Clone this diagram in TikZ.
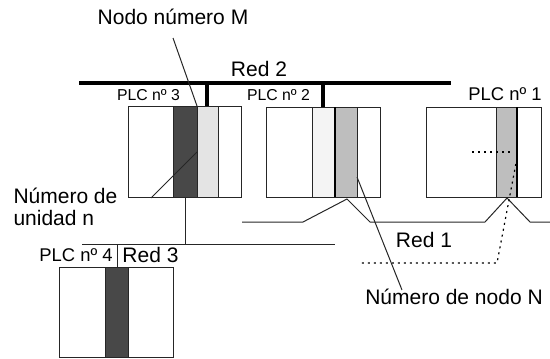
\documentclass[tikz,border=0pt]{standalone}
\usepackage{fontspec}
\setmainfont{Liberation Sans}
\definecolor{oscuro}{HTML}{484848}
\definecolor{claro}{HTML}{E4E4E4}
\definecolor{clarisimo}{HTML}{F4F4F4}
\definecolor{medio}{HTML}{BEBEBE}

\begin{document}
\begin{tikzpicture}[x=0.5pt,y=-0.5pt,line width=0.5pt,
  caja/.style={draw=black!85},
  bus/.style={line width=2pt},
  linea/.style={draw=black!85},
  punteado/.style={line width=0.6pt,dash pattern=on 1pt off 2pt},
  etiq/.style={inner sep=0pt,font=\fontsize{10.5}{11}\selectfont},
  plcg/.style={inner sep=0pt,font=\fontsize{9.2}{11}\selectfont},
  plcp/.style={inner sep=0pt,font=\fontsize{7.9}{9}\selectfont}]
\path[use as bounding box] (0,0) rectangle (550,358);
% PLC 3
\fill[oscuro] (173,106) rectangle (197,197);
\fill[claro] (197,106) rectangle (218,197);
\draw[caja] (128,106) rectangle (241,197);
\draw[caja] (173,106) -- (173,197) (197,106) -- (197,197) (218,106) -- (218,197);
% PLC 2
\fill[clarisimo] (312,107) rectangle (335,197);
\fill[medio] (335,107) rectangle (357,197);
\draw[caja] (266,107) rectangle (380,197);
\draw[caja] (312,107) -- (312,197) (357,107) -- (357,197);
\draw[line width=1pt] (335,107) -- (335,197);
% PLC 1
\fill[medio] (496,107) rectangle (517,197);
\draw[caja] (426,107) rectangle (541,197);
\draw[caja] (496,107) -- (496,197);
\draw[line width=0.9pt] (517,107) -- (517,197);
% PLC 4
\fill[oscuro] (105,267) rectangle (128,357);
\draw[caja] (59,267) rectangle (173,357);
\draw[caja] (105,267) -- (105,357) (128,267) -- (128,357);
% Red 2
\coordinate (b2a) at (79,83);
\coordinate (b2b) at (451,83);
\coordinate (c3) at (207,106);
\coordinate (c2) at (323,107);
\draw[bus] (b2a) -- (b2b);
\draw[bus] (c3 |- b2a) -- (c3);
\draw[bus] (c2 |- b2a) -- (c2);
% Red 1
\coordinate (r1a) at (242,222);
\coordinate (p2) at (347,199);
\coordinate (p1) at (507,198);
\coordinate (r1b) at (550,222);
\draw[linea] (r1a) -- (303,222) -- (p2) -- (370,222) -- (485,222) -- (p1) -- (530,222) -- (r1b);
% Red 3
\coordinate (r3a) at (82,244);
\coordinate (r3b) at (335,244);
\coordinate (s3) at (185,197);
\coordinate (s4) at (117,267);
\draw[linea] (r3a) -- (r3b);
\draw[linea] (s3) -- (s3 |- r3a);
\draw[linea] (s4 |- r3a) -- (s4);
% textos
\node[etiq] (tM) at (173,17) {Nodo número M};
\node[etiq] (tR2) at (259,69) {Red 2};
\node[plcp] (tP3) at (148.5,95) {PLC nº 3};
\node[plcp] (tP2) at (278.5,95) {PLC nº 2};
\node[plcg] (tP1) at (505,94) {PLC nº 1};
\node[plcg] (tP4) at (76,255) {PLC nº 4};
\node[etiq] (tR3) at (150.5,255) {Red 3};
\node[etiq] (tR1) at (424,240) {Red 1};
\node[etiq,align=left,anchor=west] (tn) at (13,207) {Número de\\unidad n};
\node[etiq] (tN) at (454,297) {Número de nodo N};
% lineas de referencia
\coordinate (mA) at (173,38);
\coordinate (mB) at (197,106);
\coordinate (nA) at (151,198);
\coordinate (nB) at (197,152);
\coordinate (NA) at (402,290);
\coordinate (NB) at (357,177);
\draw[linea] (mA) -- (mB);
\draw[linea] (nA) -- (nB);
\draw[linea] (NA) -- (NB);
\coordinate (d1) at (472,152);
\coordinate (d2) at (513,152);
\coordinate (d3) at (517,158);
\coordinate (d4) at (497,263);
\coordinate (d5) at (360,263);
\draw[punteado] (d1) -- (d2);
\draw[punteado] (d3) -- (d4) -- (d5);
\end{tikzpicture}
\end{document}
